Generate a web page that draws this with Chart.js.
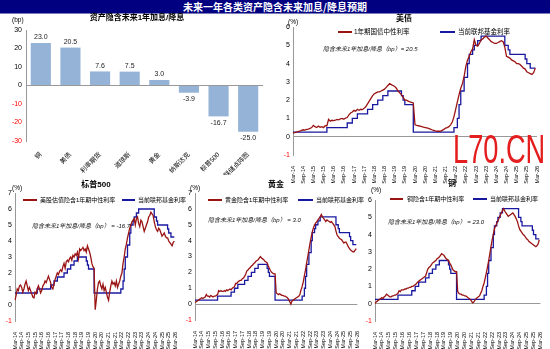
<!DOCTYPE html>
<html>
<head>
<meta charset="utf-8">
<script src="https://cdn.jsdelivr.net/npm/chart.js@4.4.3/dist/chart.umd.min.js"></script>
<style>
html, body { margin: 0; padding: 0; background: #fff; }
body { width: 550px; height: 349px; position: relative; overflow: hidden; font-family: 'Liberation Sans', 'Noto Sans CJK SC', sans-serif; }
#hdr { position: absolute; left: 0; top: 0; width: 550px; height: 13px; background: #000080; border-bottom: 1px solid #7b7bbb; color: #fff; font: bold 10px 'Noto Sans CJK SC', sans-serif; text-align: center; line-height: 13px; }
canvas { position: absolute; }
.t { position: absolute; white-space: nowrap; color: #000; line-height: 1; }
.ttl { font-weight: bold; font-size: 8px; transform: translate(-50%, -50%); }
.u { font-size: 6.5px; transform: translateY(-50%); }
.lg { font-size: 6px; transform: translateY(-50%); }
.an { font-size: 6px; font-style: italic; transform: translateY(-50%); color: #111; }
.sw { position: absolute; height: 1.6px; }
#wm { position: absolute; left: 453px; top: 129px; font: 40px 'Liberation Sans', sans-serif; line-height: 1; color: #e41e1e; transform: scaleX(0.68); transform-origin: 0 0; }
</style>
</head>
<body>
<div id="hdr">未来一年各类资产隐含未来加息/降息预期</div>

<canvas id="bar" width="270" height="161" style="left:0;top:14px"></canvas>
<canvas id="ust" width="278" height="170" style="left:272px;top:14px"></canvas>
<canvas id="spx" width="185" height="173" style="left:0;top:176px"></canvas>
<canvas id="gold" width="185" height="173" style="left:182px;top:176px"></canvas>
<canvas id="cu" width="188" height="173" style="left:362px;top:176px"></canvas>

<!-- bar panel texts -->
<div class="t ttl" style="left:137px;top:18px">资产隐含未来1年加息/降息</div>
<div class="t u" style="left:12px;top:20px">(bp)</div>

<!-- 美债 -->
<div class="t ttl" style="left:404px;top:19px">美债</div>
<div class="t u" style="left:288px;top:22px">(%)</div>
<div class="sw" style="left:338px;top:31px;width:14px;background:#9a1414"></div>
<div class="t lg" style="left:354px;top:32px;font-size:6.5px">1年期国债中性利率</div>
<div class="sw" style="left:440px;top:31px;width:15px;background:#1818a0"></div>
<div class="t lg" style="left:458px;top:32px;font-size:6.5px">当前联邦基金利率</div>
<div class="t an" style="left:323px;top:49px">隐含未来1年加息/降息（bp）= 20.5</div>

<!-- 标普500 -->
<div class="t ttl" style="left:96px;top:185px">标普500</div>
<div class="t u" style="left:12px;top:188px">(%)</div>
<div class="sw" style="left:23px;top:199px;width:14px;background:#9a1414"></div>
<div class="t lg" style="left:40px;top:200px">美股估值隐含1年期中性利率</div>
<div class="sw" style="left:122px;top:199px;width:13px;background:#1818a0"></div>
<div class="t lg" style="left:138px;top:200px">当前联邦基金利率</div>
<div class="t an" style="left:32px;top:226px">隐含未来1年加息/降息（bp） = -16.7</div>

<!-- 黄金 -->
<div class="t ttl" style="left:276px;top:185px">黄金</div>
<div class="t u" style="left:190px;top:188px">(%)</div>
<div class="sw" style="left:208px;top:199px;width:14px;background:#9a1414"></div>
<div class="t lg" style="left:225px;top:200px">黄金隐含1年期中性利率</div>
<div class="sw" style="left:298px;top:199px;width:15px;background:#1818a0"></div>
<div class="t lg" style="left:316px;top:200px">当前联邦基金利率</div>
<div class="t an" style="left:208px;top:220px">隐含未来1年加息/降息（bp） = 3.0</div>

<!-- 铜 -->
<div class="t ttl" style="left:452px;top:184px">铜</div>
<div class="t u" style="left:371px;top:190px">(%)</div>
<div class="sw" style="left:390px;top:198px;width:13px;background:#9a1414"></div>
<div class="t lg" style="left:407px;top:199px">铜隐含1年期中性利率</div>
<div class="sw" style="left:473px;top:198px;width:14px;background:#1818a0"></div>
<div class="t lg" style="left:490px;top:199px">当前联邦基金利率</div>
<div class="t an" style="left:388px;top:222px">隐含未来1年加息/降息（bp） = 23.0</div>

<div id="wm">L70.CN</div>

<script>
// bar panel
const assetNames = ['铜', '美债', '利率期货', '道琼斯', '黄金', '纳斯达克', '标普500', '美联储点阵图'];
const assetValues = [23.0, 20.5, 7.6, 7.5, 3.0, -3.9, -16.7, -25.0];

// x tick labels, every 6 months; monthly data starts Mar-14
const tickLabels = ['Mar-14', 'Sep-14', 'Mar-15', 'Sep-15', 'Mar-16', 'Sep-16', 'Mar-17', 'Sep-17',
  'Mar-18', 'Sep-18', 'Mar-19', 'Sep-19', 'Mar-20', 'Sep-20', 'Mar-21', 'Sep-21', 'Mar-22', 'Sep-22',
  'Mar-23', 'Sep-23', 'Mar-24', 'Sep-24', 'Mar-25', 'Sep-25', 'Mar-26'];

// fed funds target upper bound, monthly (Mar-14 .. Feb-26)
const fedFunds = [
  0.25, 0.25, 0.25, 0.25, 0.25, 0.25, 0.25, 0.25, 0.25, 0.25, 0.25, 0.25,
  0.25, 0.25, 0.25, 0.25, 0.25, 0.25, 0.25, 0.25, 0.25, 0.5, 0.5, 0.5,
  0.5, 0.5, 0.5, 0.5, 0.5, 0.5, 0.5, 0.5, 0.5, 0.75, 0.75, 0.75,
  1.0, 1.0, 1.0, 1.25, 1.25, 1.25, 1.25, 1.25, 1.25, 1.5, 1.5, 1.5,
  1.75, 1.75, 1.75, 2.0, 2.0, 2.0, 2.25, 2.25, 2.25, 2.5, 2.5, 2.5,
  2.5, 2.5, 2.5, 2.5, 2.5, 2.25, 2.0, 1.75, 1.75, 1.75, 1.75, 1.75,
  0.25, 0.25, 0.25, 0.25, 0.25, 0.25, 0.25, 0.25, 0.25, 0.25, 0.25, 0.25,
  0.25, 0.25, 0.25, 0.25, 0.25, 0.25, 0.25, 0.25, 0.25, 0.25, 0.25, 0.25,
  0.5, 0.5, 1.0, 1.75, 2.5, 2.5, 3.25, 3.25, 4.0, 4.5, 4.5, 4.75,
  5.0, 5.0, 5.25, 5.25, 5.5, 5.5, 5.5, 5.5, 5.5, 5.5, 5.5, 5.5,
  5.5, 5.5, 5.5, 5.5, 5.5, 5.5, 5.0, 5.0, 4.75, 4.5, 4.5, 4.5,
  4.5, 4.5, 4.5, 4.5, 4.5, 4.5, 4.25, 4.0, 4.0, 3.75, 3.75, 3.75
];

// 1年期国债中性利率
const ustNeutral = [
  0.2, 0.22, 0.25, 0.28, 0.3, 0.35, 0.38, 0.36, 0.4, 0.42, 0.45, 0.5,
  0.62, 0.55, 0.5, 0.58, 0.52, 0.55, 0.5, 0.6, 0.6, 0.95, 0.85, 0.9,
  0.88, 0.9, 0.95, 0.92, 0.98, 1.0, 0.95, 1.02, 1.05, 1.2, 1.3, 1.35,
  1.45, 1.4, 1.5, 1.45, 1.5, 1.48, 1.55, 1.65, 1.8, 1.95, 2.1, 2.25,
  2.35, 2.4, 2.45, 2.45, 2.5, 2.55, 2.6, 2.7, 2.8, 2.9, 2.85, 2.8,
  2.75, 2.65, 2.5, 2.4, 2.3, 2.15, 2.0, 2.0, 1.95, 1.9, 1.88, 1.85,
  0.65, 0.62, 0.6, 0.58, 0.55, 0.52, 0.5, 0.48, 0.45, 0.42, 0.38, 0.35,
  0.32, 0.3, 0.3, 0.3, 0.35, 0.4, 0.47, 0.5, 0.55, 0.65, 0.8, 1.1,
  1.5, 1.9, 2.3, 2.65, 2.9, 3.3, 3.85, 4.2, 4.4, 4.65, 4.8, 5.3,
  5.0, 4.95, 5.1, 5.3, 5.35, 5.45, 5.5, 5.4, 5.3, 5.2, 5.15, 5.1,
  5.1, 5.15, 5.2, 5.25, 5.2, 4.9, 4.4, 4.35, 4.3, 4.2, 4.15, 4.1,
  4.0, 4.0, 3.95, 3.85, 3.75, 3.7, 3.55, 3.5, 3.45, 3.4, 3.5, 3.75
];

// 美股估值隐含1年期中性利率
const spxNeutral = [
  0.3, 0.6, 1.0, 0.9, 1.2, 1.25, 1.1, 0.8, 1.0, 1.3, 1.5, 1.2,
  0.9, 1.1, 0.9, 0.7, 0.5, 0.45, 0.8, 0.7, 1.0, 1.2, 1.0, 0.75,
  0.9, 1.2, 1.3, 1.5, 1.4, 1.6, 1.8, 1.6, 1.4, 1.1, 1.0, 1.3,
  1.6, 1.8, 2.0, 1.9, 2.1, 2.2, 2.1, 2.4, 2.6, 2.3, 2.7, 2.8,
  2.7, 2.9, 3.0, 2.8, 3.1, 3.0, 3.2, 3.1, 3.3, 2.9, 3.5, 3.4,
  3.5, 3.6, 3.4, 3.5, 3.3, 3.7, 3.5, 3.3, 3.0, 2.6, 2.4, 2.3,
  -0.3, 0.3, 1.0, 1.4, 1.5, 1.2, 1.0, 1.3, 0.9, 1.1, 0.8, 0.5,
  0.3, 0.8, 1.2, 1.5, 1.3, 1.4, 1.2, 1.5, 1.1, 1.3, 1.5, 1.8,
  2.0, 2.6, 3.0, 3.5, 3.8, 4.2, 4.5, 4.8, 5.0, 5.2, 5.3, 5.4,
  5.0, 5.4, 5.5, 5.1, 4.9, 5.3, 5.2, 4.9, 4.6, 4.8, 5.0, 5.2,
  5.5, 5.6, 5.8, 5.7, 5.6, 5.2, 4.9, 4.7, 4.6, 4.8, 4.7, 4.5,
  4.3, 4.4, 4.5, 4.3, 4.2, 4.2, 4.0, 3.9, 3.8, 3.7, 3.9, 4.0
];

// 黄金隐含1年期中性利率
const goldNeutral = [
  0.1, 0.15, 0.2, 0.25, 0.3, 0.35, 0.4, 0.35, 0.4, 0.45, 0.6, 0.5,
  0.5, 0.45, 0.55, 0.5, 0.45, 0.5, 0.5, 0.55, 0.6, 0.85, 0.8, 0.85,
  0.8, 0.8, 0.85, 0.8, 0.9, 0.85, 0.9, 0.95, 0.9, 1.0, 1.05, 1.1,
  1.3, 1.3, 1.4, 1.45, 1.5, 1.5, 1.6, 1.65, 1.75, 1.9, 2.1, 2.15,
  2.25, 2.3, 2.4, 2.45, 2.55, 2.6, 2.7, 2.75, 2.8, 2.9, 3.0, 2.9,
  2.85, 2.8, 2.7, 2.65, 2.6, 2.4, 2.25, 2.1, 2.0, 1.95, 1.9, 1.9,
  0.7, 0.65, 0.6, 0.65, 0.6, 0.55, 0.55, 0.5, 0.5, 0.45, 0.4, 0.3,
  0.15, 0.0, 0.2, 0.25, 0.3, 0.35, 0.4, 0.45, 0.5, 0.6, 0.9, 1.1,
  1.4, 1.8, 2.15, 2.6, 3.0, 3.4, 3.85, 4.2, 4.55, 4.8, 5.0, 5.1,
  5.2, 5.3, 5.4, 5.5, 5.65, 5.5, 5.4, 5.3, 5.2, 5.3, 5.25, 5.2,
  5.15, 5.2, 5.1, 5.0, 4.9, 4.6, 4.35, 4.25, 4.15, 4.1, 4.05, 3.95,
  3.85, 3.9, 3.9, 3.75, 3.6, 3.5, 3.4, 3.35, 3.3, 3.3, 3.4, 3.5
];

// 铜隐含1年期中性利率
const copperNeutral = [
  0.0, 0.1, 0.15, 0.2, 0.25, 0.3, 0.35, 0.3, 0.4, 0.45, 0.55, 0.5,
  0.45, 0.4, 0.4, 0.45, 0.45, 0.5, 0.5, 0.55, 0.6, 0.75, 0.7, 0.8,
  0.8, 0.8, 0.85, 0.85, 0.9, 0.9, 0.95, 0.95, 1.0, 1.0, 1.05, 1.1,
  1.15, 1.25, 1.3, 1.35, 1.4, 1.45, 1.5, 1.55, 1.6, 1.8, 2.0, 2.1,
  2.15, 2.25, 2.35, 2.4, 2.45, 2.5, 2.6, 2.65, 2.7, 2.8, 2.9, 2.85,
  2.8, 2.7, 2.6, 2.55, 2.5, 2.35, 2.25, 2.1, 1.95, 1.9, 1.85, 1.85,
  0.7, 0.6, 0.55, 0.55, 0.5, 0.5, 0.45, 0.45, 0.4, 0.35, 0.3, 0.25,
  0.15, 0.05, 0.1, 0.2, 0.3, 0.35, 0.4, 0.45, 0.6, 0.75, 1.0, 1.2,
  1.5, 1.8, 2.15, 2.5, 2.9, 3.3, 3.7, 4.0, 4.35, 4.5, 4.65, 4.8,
  4.95, 5.1, 5.25, 5.4, 5.5, 5.35, 5.25, 5.15, 5.05, 5.1, 5.15, 5.2,
  5.25, 5.15, 5.05, 4.9, 4.75, 4.5, 4.3, 4.2, 4.1, 4.0, 3.95, 3.85,
  3.75, 3.7, 3.6, 3.55, 3.5, 3.45, 3.4, 3.35, 3.3, 3.35, 3.45, 3.7
];

const FONT = "'Liberation Sans', 'Noto Sans CJK SC', sans-serif";
Chart.defaults.font.family = FONT;
Chart.defaults.color = '#000';
Chart.defaults.animation = false;

const RED = '#9a1414';
const BLUE = '#1818a0';
const AXIS = '#999';

// one category per month, only every 6th gets a label
const months = [];
tickLabels.forEach((t, i) => {
  months.push(t);
  if (i < tickLabels.length - 1) for (let k = 1; k < 6; k++) months.push('');
});

function negRed(c) {
  return c.tick && c.tick.value < 0 ? '#ff0000' : '#000';
}

const barLabels = {
  id: 'barLabels',
  afterDatasetsDraw(chart) {
    const ctx = chart.ctx;
    ctx.save();
    ctx.font = '7px ' + FONT;
    ctx.fillStyle = '#222';
    ctx.textAlign = 'center';
    chart.getDatasetMeta(0).data.forEach((bar, i) => {
      const v = assetValues[i];
      if (v >= 0) {
        ctx.textBaseline = 'bottom';
        ctx.fillText(v.toFixed(1), bar.x, bar.y - 2);
      } else {
        ctx.textBaseline = 'top';
        ctx.fillText(v.toFixed(1), bar.x, bar.y + 3);
      }
    });
    ctx.restore();
  }
};

new Chart(document.getElementById('bar'), {
  type: 'bar',
  data: {
    labels: assetNames,
    datasets: [{
      data: assetValues,
      backgroundColor: '#95b3d7',
      borderWidth: 0,
      barPercentage: 0.68,
      categoryPercentage: 1
    }]
  },
  options: {
    responsive: false,
    layout: { padding: { top: 16, right: 7, left: 0, bottom: 0 } },
    plugins: { legend: { display: false }, tooltip: { enabled: false } },
    scales: {
      x: {
        grid: { display: false },
        border: { display: false },
        ticks: { autoSkip: false, minRotation: 45, maxRotation: 45, font: { size: 6.5 }, padding: 2, color: '#000' },
        afterFit: (s) => { s.height = 34; }
      },
      y: {
        min: -30,
        max: 30,
        ticks: { stepSize: 10, font: { size: 7 }, color: negRed, padding: 4 },
        grid: { color: (c) => (c.tick.value === 0 ? AXIS : 'transparent'), drawTicks: false },
        border: { color: AXIS },
        afterFit: (s) => { s.width = 26; }
      }
    }
  },
  plugins: [barLabels]
});

function lineChart(id, neutral, yMin, yMax, box, fedShift) {
  const scales = {
    x: {
      type: 'category',
      offset: false,
      grid: { display: false },
      border: { display: false },
      ticks: { autoSkip: false, minRotation: 90, maxRotation: 90, font: { size: 5.5 }, padding: 3, color: '#000' },
      afterBuildTicks: (s) => { s.ticks = s.ticks.filter((t) => t.value % 6 === 0); },
      afterFit: (s) => { s.height = box.xh; }
    },
    y: {
      min: yMin,
      max: yMax,
      ticks: { stepSize: 1, font: { size: 7 }, color: negRed, padding: 3 },
      grid: { color: (c) => (!fedShift && c.tick.value === 0 ? AXIS : 'transparent'), drawTicks: false },
      border: { color: AXIS },
      afterFit: (s) => { s.width = box.yw; }
    }
  };
  if (fedShift) {
    // fed funds on a secondary scale, shifted against the left one
    scales.y2 = {
      position: 'right',
      min: yMin - fedShift,
      max: yMax - fedShift,
      ticks: { display: false, stepSize: 1 },
      grid: { color: (c) => (c.tick.value === 0 ? AXIS : 'transparent'), drawTicks: false },
      border: { display: false },
      afterFit: (s) => { s.width = 0; }
    };
  }
  return new Chart(document.getElementById(id), {
    type: 'line',
    data: {
      labels: months,
      datasets: [
        { data: neutral, borderColor: RED, borderWidth: 1.3, pointRadius: 0, tension: 0, yAxisID: 'y' },
        { data: fedFunds, borderColor: BLUE, borderWidth: 1.3, pointRadius: 0, stepped: 'after', yAxisID: fedShift ? 'y2' : 'y' }
      ]
    },
    options: {
      responsive: false,
      layout: { padding: { top: box.top, right: box.right, left: 0, bottom: 0 } },
      plugins: { legend: { display: false }, tooltip: { enabled: false } },
      scales
    }
  });
}

lineChart('ust', ustNeutral, -1, 6, { top: 13, right: 13, yw: 21, xh: 29 }, 0);
lineChart('spx', spxNeutral, -1, 7, { top: 17, right: 3, yw: 15, xh: 28 }, 0.5);
lineChart('gold', goldNeutral, -1, 7, { top: 17, right: 4, yw: 13, xh: 29 }, 0);
lineChart('cu', copperNeutral, -1, 6, { top: 24, right: 8, yw: 13, xh: 28 }, 0);
</script>
</body>
</html>
